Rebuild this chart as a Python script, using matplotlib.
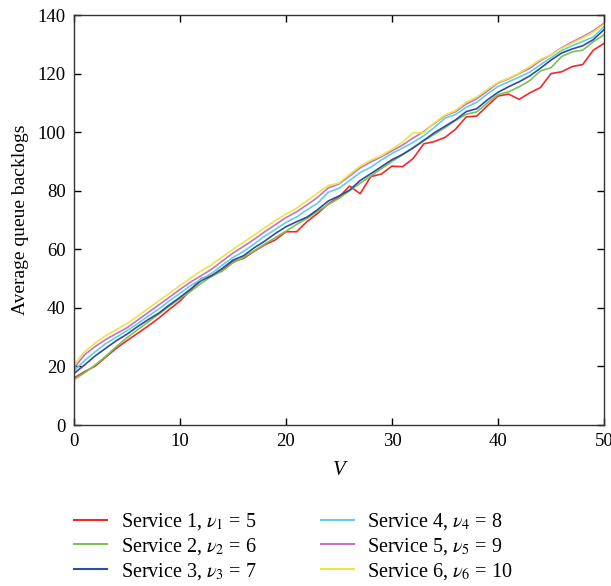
import numpy as np
import matplotlib
matplotlib.use("Agg")
import matplotlib.pyplot as plt

plt.rcParams['font.family'] = ['Liberation Serif', 'DejaVu Serif']
plt.rcParams['mathtext.fontset'] = 'stix'

V = np.arange(0, 51)

s1 = [16.0, 18.2, 20.1, 23.2, 26.2, 28.8, 31.3, 33.8, 36.5, 39.5, 42.3, 46.0, 50.0, 51.0, 52.8,
      55.8, 56.9, 59.3, 61.5, 63.2, 66.0, 66.0, 69.5, 72.3, 75.5, 77.8, 81.6, 79.0, 84.8, 85.7,
      88.4, 88.2, 91.0, 96.0, 96.8, 98.2, 101.0, 105.2, 105.5, 109.0, 112.3, 113.0, 111.2, 113.4,
      115.2, 120.0, 120.6, 122.4, 123.1, 128.0, 130.3]
s2 = [15.5, 17.8, 20.5, 23.5, 26.8, 29.8, 32.5, 35.2, 37.8, 40.6, 43.2, 45.6, 48.4, 50.8, 52.6,
      55.4, 57.2, 59.5, 61.8, 64.0, 66.2, 68.5, 70.6, 73.0, 75.3, 77.4, 80.0, 82.6, 85.0, 87.5,
      90.0, 92.3, 94.8, 97.0, 99.3, 101.5, 104.0, 106.1, 106.9, 110.0, 112.8, 113.8, 115.5, 117.6,
      120.9, 122.0, 125.8, 127.4, 128.0, 130.9, 133.2]
s3 = [17.6, 20.5, 23.6, 26.2, 28.8, 31.0, 33.6, 36.0, 38.2, 41.0, 43.6, 46.4, 49.3, 51.0, 53.5,
      56.3, 57.8, 60.5, 62.8, 65.4, 67.7, 69.4, 71.0, 73.6, 76.5, 78.2, 80.2, 83.5, 85.8, 88.2,
      90.6, 92.4, 94.6, 97.2, 99.8, 102.0, 104.2, 107.0, 108.0, 111.0, 113.6, 115.5, 117.2, 119.2,
      121.8, 124.6, 127.0, 128.4, 129.5, 131.6, 135.0]
s4 = [18.5, 22.0, 25.0, 27.8, 30.0, 32.2, 34.6, 37.2, 39.6, 42.4, 45.0, 47.6, 49.8, 51.8, 54.6,
      57.2, 59.3, 61.8, 64.5, 66.8, 69.2, 71.0, 73.5, 75.8, 79.5, 80.8, 83.5, 86.2, 88.0, 90.5,
      92.7, 94.6, 96.5, 98.8, 101.6, 104.8, 106.0, 108.5, 110.2, 113.0, 115.6, 117.2, 118.8, 120.5,
      123.0, 125.4, 127.8, 129.5, 131.0, 132.5, 136.0]
s5 = [19.4, 24.0, 26.8, 29.2, 31.2, 33.2, 35.8, 38.4, 41.0, 43.6, 46.3, 48.8, 51.0, 53.2, 56.0,
      58.7, 61.0, 63.4, 66.0, 68.4, 70.8, 72.8, 75.2, 77.8, 81.0, 82.3, 85.0, 87.8, 89.8, 91.6,
      93.6, 95.6, 98.0, 100.2, 103.0, 105.6, 107.0, 109.6, 111.4, 114.0, 116.8, 118.2, 120.0, 121.8,
      124.4, 126.4, 128.8, 130.8, 132.6, 134.6, 137.2]
s6 = [20.5, 25.0, 28.0, 30.5, 32.6, 34.6, 37.2, 39.8, 42.4, 45.0, 47.6, 50.2, 52.6, 54.8, 57.4,
      60.0, 62.4, 64.8, 67.4, 69.8, 72.0, 74.0, 76.6, 79.2, 81.8, 82.6, 85.6, 88.4, 90.4, 92.0,
      94.2, 96.6, 99.8, 99.8, 103.2, 105.8, 107.4, 110.2, 112.0, 114.6, 117.0, 118.4, 120.2, 122.4,
      124.8, 126.4, 128.6, 130.4, 132.2, 134.2, 136.8]

labels = [r'Service 1, $\nu_1$ = 5', r'Service 2, $\nu_2$ = 6', r'Service 3, $\nu_3$ = 7',
          r'Service 4, $\nu_4$ = 8', r'Service 5, $\nu_5$ = 9', r'Service 6, $\nu_6$ = 10']
colors = ['#f02a2a', '#7cc255', '#2f4d9e', '#62cfe0', '#c274c2', '#efe24a']

fig = plt.figure(figsize=(6.11, 5.86), dpi=100)
ax = fig.add_axes([0.121, 0.2747, 0.8675, 0.6997])

for s, c, lab in zip([s1, s2, s3, s4, s5, s6], colors, labels):
    ax.plot(V, s, color=c, lw=1.2, label=lab)

ax.set_xlim(0, 50)
ax.set_ylim(0, 140)
ax.set_xticks(range(0, 51, 10))
ax.set_yticks(range(0, 141, 20))
ax.tick_params(direction='in', length=5, width=1, labelsize=13.5, top=True, right=True, pad=6)
for sp in ax.spines.values():
    sp.set_linewidth(1.0)
    sp.set_color('#333333')
ax.set_xlabel('V', fontsize=15, fontstyle='italic', labelpad=8)
ax.set_ylabel('Average queue backlogs', fontsize=14, labelpad=6)

h, l = ax.get_legend_handles_labels()
leg = fig.legend(h, l, ncol=2, loc='upper left', bbox_to_anchor=(0.105, 0.145), frameon=False,
                 fontsize=14.5, handlelength=1.65, handletextpad=0.65, columnspacing=3.2,
                 labelspacing=0.2, borderpad=0)
for line in leg.get_lines():
    line.set_linewidth(1.5)

fig.savefig('out.png', dpi=100)
